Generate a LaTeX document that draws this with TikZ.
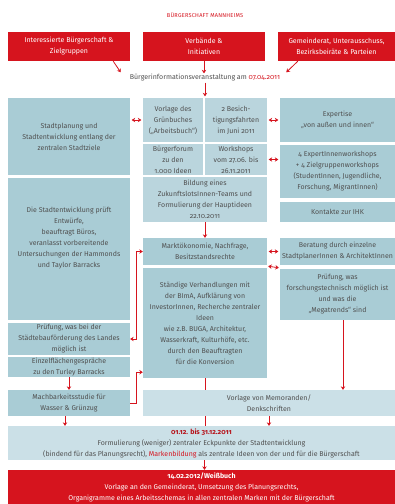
\documentclass[tikz,border=0pt]{standalone}
\usepackage{fontspec}
\setmainfont{Fira Sans}[Numbers=OldStyle]
\usetikzlibrary{arrows.meta,calc}
\definecolor{mred}{RGB}{214,20,30}
\definecolor{bdark}{RGB}{169,204,213}
\definecolor{bmid}{RGB}{186,213,221}
\definecolor{blight}{RGB}{203,224,231}
\definecolor{txt}{RGB}{80,80,80}
\newcommand\fs{\fontsize{7}{11}\selectfont}
\tikzset{
  base/.style={inner sep=0pt, align=center, font=\fs, text=txt},
  redbox/.style={base, fill=mred, text=white},
  darkbox/.style={base, fill=bdark},
  midbox/.style={base, fill=bmid},
  lightbox/.style={base, fill=blight},
  wh/.style 2 args={minimum width=#1, minimum height=#2},
  link/.style={draw=mred, line width=0.8pt},
  arr/.style={link, -{Stealth[length=3.5pt,width=4.5pt]}},
  darr/.style={link, {Stealth[length=3.5pt,width=4.5pt]}-{Stealth[length=3.5pt,width=4.5pt]}}
}
\begin{document}
\begin{tikzpicture}[x=1pt,y=-1pt]
\useasboundingbox (0,0) rectangle (395,504);
\fill[white] (0,0) rectangle (395,504);

% heading and the three groups of participants
\node[base, text=mred, font=\fontsize{5.6}{7}\selectfont\addfontfeatures{LetterSpace=4}] (title) at (205,15) {BÜRGERSCHAFT MANNHEIMS};
\node[redbox, wh={122}{29}] (r1) at (69,46.5) {Interessierte Bürgerschaft \&\\Zielgruppen};
\node[redbox, wh={122}{29}] (r2) at (204,46.5) {Verbände \&\\Initiativen};
\node[redbox, wh={117}{29}] (r3) at (336.5,46.5) {Gemeinderat, Unterausschuss,\\Bezirksbeiräte \& Parteien};
\node[base, inner sep=1pt] (info) at (205,78) {Bürgerinformationsveranstaltung am \textcolor{mred}{07.04.2011}};

% left column: administration
\node[darkbox, wh={122}{77}] (L1) at (69,136.5) {Stadtplanung und\\Stadtentwicklung entlang der\\zentralen Stadtziele};
\node[darkbox, wh={122}{142}] (L2) at (69,249) {Die Stadtentwicklung prüft\\Entwürfe,\\beauftragt Büros,\\veranlasst vorbereitende\\Untersuchungen der Hammonds\\und Taylor Barracks\\[12pt]};
\node[darkbox, wh={122}{32}] (L3) at (69,339) {Prüfung, was bei der\\Städtebauförderung des Landes\\möglich ist};
\node[darkbox, wh={122}{20}] (L4) at (69,367) {Einzelflächengespräche\\zu den Turley Barracks};
\node[darkbox, wh={122}{26}] (L5) at (69,403) {Machbarkeitsstudie für\\Wasser \& Grünzug};

% middle column: participation process
\node[midbox, wh={60}{44}] (M1) at (173,120) {Vorlage des\\Grünbuches\\(„Arbeitsbuch“)};
\node[midbox, wh={62}{44}] (M2) at (236,120) {2 Besich-\\tigungsfahrten\\im Juni 2011};
\node[midbox, wh={60}{31}] (M3) at (173,159.5) {Bürgerforum\\zu den\\1.000 Ideen};
\node[midbox, wh={62}{31}] (M4) at (236,159.5) {Workshops\\vom 27.06. bis\\26.11.2011};
\node[midbox, wh={124}{45}] (M5) at (205,199.5) {Bildung eines\\ZukunftslotsInnen-Teams und\\Formulierung der Hauptideen\\22.10.2011};
\node[darkbox, wh={124}{27}] (M6) at (205,251.5) {Marktökonomie, Nachfrage,\\Besitzstandsrechte};
\node[darkbox, wh={124}{110}] (M7) at (205,323) {Ständige Verhandlungen mit\\der BImA, Aufklärung von\\InvestorInnen, Recherche zentraler\\Ideen\\wie z.B. BUGA, Architektur,\\Wasserkraft, Kulturhöfe, etc.\\durch den Beauftragten\\für die Konversion};

% right column: expertise
\node[darkbox, wh={115}{44}] (R1) at (337.5,120) {Expertise\\„von außen und innen“};
\node[darkbox, wh={115}{53}] (R2) at (337.5,171.5) {4 ExpertInnenworkshops\\+ 4 Zielgruppenworkshops\\(StudentInnen, Jugendliche,\\Forschung, MigrantInnen)};
\node[darkbox, wh={115}{20}] (R3) at (337.5,212) {Kontakte zur IHK};
\node[darkbox, wh={115}{27}] (R4) at (337.5,251.5) {Beratung durch einzelne\\StadtplanerInnen \& ArchitektInnen};
\node[darkbox, wh={115}{51}] (R5) at (337.5,294.5) {Prüfung, was\\forschungstechnisch möglich ist\\und was die\\„Megatrends“ sind};

% results
\node[lightbox, wh={252}{26}] (V) at (269,403) {Vorlage von Memoranden/\\Denkschriften};
\node[lightbox, wh={387}{34}] (F) at (201.5,443) {\textcolor{mred!85!black}{\bfseries 01.12. bis 31.12.2011}\\Formulierung (weniger) zentraler Eckpunkte der Stadtentwicklung\\(bindend für das Planungsrecht), \textcolor{mred}{Markenbildung} als zentrale Ideen von der und für die Bürgerschaft};
\node[redbox, wh={387}{34}] (W) at (201.5,487) {{\bfseries 14.02.2012/Weißbuch}\\Vorlage an den Gemeinderat, Umsetzung des Planungsrechts,\\Organigramme eines Arbeitsschemas in allen zentralen Marken mit der Bürgerschaft};

% connectors
\draw[arr] ([xshift=-17pt]r1.south east) -- ([xshift=-8pt,yshift=1pt]info.north west);
\draw[arr] (r2.south) -- (r2.south |- info.north);
\draw[arr] ([xshift=20pt]r3.south west) -- ([xshift=5pt,yshift=1pt]info.north east);
\draw[arr] (info.south) -- ([yshift=1.5pt]info.south |- M2.north);

\draw[darr] ([xshift=1.5pt]M1.west -| L1.east) -- ([xshift=-1.5pt]M1.west);
\draw[darr] ([xshift=1.5pt]M2.east) -- ([xshift=-1.5pt]M2.east -| R1.west);
\draw[darr] ([xshift=1.5pt]M4.east) -- ([xshift=-1.5pt]M4.east -| R2.west);
\draw[arr] (M5.south) -- (M6.north);
\draw[darr] ([xshift=1.5pt]M6.east) -- ([xshift=-1.5pt]M6.east -| R4.west);
\draw[darr] ([xshift=1pt,yshift=-1pt]M6.south east) -- ([xshift=-1pt,yshift=1pt]R5.north west);

\draw[darr] (L3.east) -- ++(6,0) |- (M6.west);
\draw[arr] (L5.east) -- ++(6,0) |- ([yshift=6pt]M7.south west);
\draw[arr] (L4.south) -- (L5.north);
\draw[arr] ([xshift=-4pt]L5.south) -- ([xshift=-4pt]L5.south |- F.north);

\draw[link] (M7.south) -- (M7.south |- V.north);
\draw[link] (M7.south |- V.south) -- (M7.south |- F.north);
\draw[arr] ([xshift=5.5pt]R5.south) -- ([xshift=5.5pt]R5.south |- V.north);
\draw[arr] (V.south) -- (V.south |- F.north);
\draw[arr] ([xshift=3pt]F.south) -- ([xshift=3pt]F.south |- W.north);
\end{tikzpicture}
\end{document}
